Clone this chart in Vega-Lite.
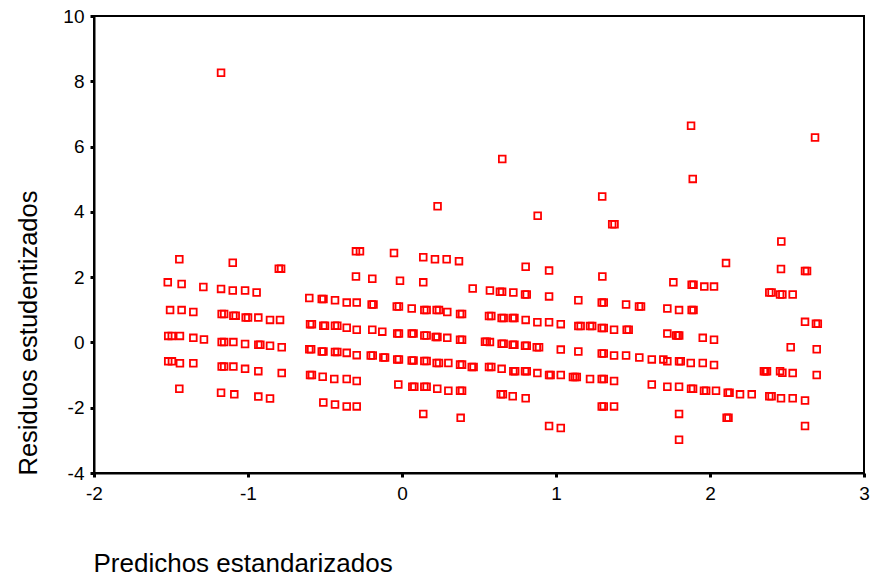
{
  "$schema": "https://vega.github.io/schema/vega-lite/v6.json",
  "width": 770,
  "height": 457,
  "autosize": "none",
  "padding": {"left": 94, "top": 16, "right": 10, "bottom": 105},
  "background": "white",
  "config": {
    "view": {"stroke": "black", "strokeWidth": 2},
    "font": "Liberation Sans"
  },
  "data": {
    "values": [
      {"x": -1.175, "y": 8.26}, {"x": 0.651, "y": 5.62}, {"x": 0.231, "y": 4.17}, {"x": 1.30, "y": 4.47}, {"x": 0.881, "y": 3.88}, {"x": 1.365, "y": 3.62}, {"x": 1.38, "y": 3.62}, {"x": 1.877, "y": 6.64}, {"x": 2.682, "y": 6.28}, {"x": 1.888, "y": 5.01}, {"x": 2.463, "y": 3.09},
      {"x": -1.446, "y": 2.55}, {"x": -1.521, "y": 1.84}, {"x": -1.431, "y": 1.79}, {"x": -1.290, "y": 1.70}, {"x": -1.506, "y": 0.99}, {"x": -1.431, "y": 0.99}, {"x": -1.355, "y": 0.93}, {"x": -1.518, "y": 0.20}, {"x": -1.495, "y": 0.20}, {"x": -1.442, "y": 0.20}, {"x": -1.355, "y": 0.14}, {"x": -1.286, "y": 0.09}, {"x": -1.518, "y": -0.58}, {"x": -1.494, "y": -0.58}, {"x": -1.442, "y": -0.64}, {"x": -1.355, "y": -0.64}, {"x": -1.446, "y": -1.42},
      {"x": -1.099, "y": 2.44}, {"x": -0.80, "y": 2.26}, {"x": -0.785, "y": 2.26}, {"x": -1.175, "y": 1.64}, {"x": -1.099, "y": 1.59}, {"x": -1.019, "y": 1.59}, {"x": -0.944, "y": 1.53}, {"x": -1.171, "y": 0.87}, {"x": -1.155, "y": 0.87}, {"x": -1.095, "y": 0.82}, {"x": -1.08, "y": 0.82}, {"x": -1.015, "y": 0.76}, {"x": -1.0, "y": 0.76}, {"x": -0.933, "y": 0.76}, {"x": -0.857, "y": 0.69}, {"x": -0.792, "y": 0.69}, {"x": -1.171, "y": 0.01}, {"x": -1.155, "y": 0.01}, {"x": -1.095, "y": 0.01}, {"x": -1.019, "y": -0.05}, {"x": -0.933, "y": -0.07}, {"x": -0.92, "y": -0.07}, {"x": -0.857, "y": -0.10}, {"x": -0.781, "y": -0.15}, {"x": -1.171, "y": -0.74}, {"x": -1.155, "y": -0.74}, {"x": -1.095, "y": -0.74}, {"x": -1.019, "y": -0.81}, {"x": -0.933, "y": -0.88}, {"x": -0.781, "y": -0.94}, {"x": -1.175, "y": -1.54}, {"x": -1.089, "y": -1.59}, {"x": -0.933, "y": -1.66}, {"x": -0.857, "y": -1.72},
      {"x": -0.299, "y": 2.79}, {"x": -0.273, "y": 2.79}, {"x": -0.299, "y": 2.02}, {"x": -0.602, "y": 1.36}, {"x": -0.521, "y": 1.33}, {"x": -0.51, "y": 1.33}, {"x": -0.435, "y": 1.29}, {"x": -0.359, "y": 1.22}, {"x": -0.294, "y": 1.22}, {"x": -0.597, "y": 0.56}, {"x": -0.585, "y": 0.56}, {"x": -0.511, "y": 0.51}, {"x": -0.50, "y": 0.51}, {"x": -0.435, "y": 0.51}, {"x": -0.42, "y": 0.51}, {"x": -0.359, "y": 0.45}, {"x": -0.294, "y": 0.39}, {"x": -0.602, "y": -0.21}, {"x": -0.59, "y": -0.21}, {"x": -0.521, "y": -0.28}, {"x": -0.51, "y": -0.28}, {"x": -0.435, "y": -0.29}, {"x": -0.42, "y": -0.29}, {"x": -0.359, "y": -0.32}, {"x": -0.294, "y": -0.39}, {"x": -0.597, "y": -1.00}, {"x": -0.585, "y": -1.00}, {"x": -0.515, "y": -1.05}, {"x": -0.440, "y": -1.12}, {"x": -0.359, "y": -1.12}, {"x": -0.294, "y": -1.18}, {"x": -0.511, "y": -1.84}, {"x": -0.435, "y": -1.90}, {"x": -0.359, "y": -1.96}, {"x": -0.294, "y": -1.96},
      {"x": -0.052, "y": 2.74}, {"x": 0.138, "y": 2.61}, {"x": 0.214, "y": 2.55}, {"x": 0.290, "y": 2.55}, {"x": 0.370, "y": 2.49}, {"x": 0.803, "y": 2.32}, {"x": 0.955, "y": 2.20}, {"x": 1.301, "y": 2.02}, {"x": -0.193, "y": 1.95}, {"x": -0.013, "y": 1.89}, {"x": 0.138, "y": 1.84}, {"x": 0.459, "y": 1.65}, {"x": 0.571, "y": 1.59}, {"x": 0.636, "y": 1.55}, {"x": 0.65, "y": 1.55}, {"x": 0.723, "y": 1.53}, {"x": 0.799, "y": 1.47}, {"x": 0.81, "y": 1.47}, {"x": 0.955, "y": 1.41}, {"x": 1.145, "y": 1.29}, {"x": 1.297, "y": 1.22}, {"x": 1.31, "y": 1.22},
      {"x": -0.197, "y": 1.16}, {"x": -0.185, "y": 1.16}, {"x": -0.034, "y": 1.10}, {"x": -0.02, "y": 1.10}, {"x": 0.063, "y": 1.04}, {"x": 0.145, "y": 0.99}, {"x": 0.16, "y": 0.99}, {"x": 0.225, "y": 0.99}, {"x": 0.24, "y": 0.99}, {"x": 0.294, "y": 0.93}, {"x": 0.377, "y": 0.87}, {"x": 0.39, "y": 0.87}, {"x": 0.565, "y": 0.81}, {"x": 0.58, "y": 0.81}, {"x": 0.647, "y": 0.75}, {"x": 0.66, "y": 0.75}, {"x": 0.719, "y": 0.75}, {"x": 0.73, "y": 0.75}, {"x": 0.803, "y": 0.69}, {"x": 0.879, "y": 0.62}, {"x": 0.955, "y": 0.62}, {"x": 1.031, "y": 0.56}, {"x": 1.145, "y": 0.50}, {"x": 1.16, "y": 0.50}, {"x": 1.221, "y": 0.50}, {"x": 1.235, "y": 0.50}, {"x": 1.297, "y": 0.44}, {"x": 1.31, "y": 0.44}, {"x": 1.377, "y": 0.39},
      {"x": -0.193, "y": 0.39}, {"x": -0.128, "y": 0.33}, {"x": -0.031, "y": 0.27}, {"x": -0.02, "y": 0.27}, {"x": 0.063, "y": 0.27}, {"x": 0.075, "y": 0.27}, {"x": 0.145, "y": 0.21}, {"x": 0.16, "y": 0.21}, {"x": 0.219, "y": 0.17}, {"x": 0.23, "y": 0.17}, {"x": 0.294, "y": 0.14}, {"x": 0.377, "y": 0.08}, {"x": 0.39, "y": 0.08}, {"x": 0.539, "y": 0.02}, {"x": 0.55, "y": 0.02}, {"x": 0.571, "y": 0.01}, {"x": 0.647, "y": -0.04}, {"x": 0.66, "y": -0.04}, {"x": 0.719, "y": -0.07}, {"x": 0.73, "y": -0.07}, {"x": 0.799, "y": -0.10}, {"x": 0.81, "y": -0.10}, {"x": 0.875, "y": -0.15}, {"x": 0.89, "y": -0.15}, {"x": 1.031, "y": -0.22}, {"x": 1.145, "y": -0.28}, {"x": 1.297, "y": -0.34}, {"x": 1.31, "y": -0.34}, {"x": 1.377, "y": -0.40},
      {"x": -0.203, "y": -0.40}, {"x": -0.19, "y": -0.40}, {"x": -0.121, "y": -0.46}, {"x": -0.11, "y": -0.46}, {"x": -0.031, "y": -0.52}, {"x": -0.02, "y": -0.52}, {"x": 0.063, "y": -0.55}, {"x": 0.075, "y": -0.55}, {"x": 0.145, "y": -0.57}, {"x": 0.16, "y": -0.57}, {"x": 0.225, "y": -0.63}, {"x": 0.24, "y": -0.63}, {"x": 0.301, "y": -0.63}, {"x": 0.377, "y": -0.68}, {"x": 0.39, "y": -0.68}, {"x": 0.453, "y": -0.75}, {"x": 0.465, "y": -0.75}, {"x": 0.565, "y": -0.75}, {"x": 0.58, "y": -0.75}, {"x": 0.647, "y": -0.81}, {"x": 0.723, "y": -0.88}, {"x": 0.735, "y": -0.88}, {"x": 0.799, "y": -0.88}, {"x": 0.81, "y": -0.88}, {"x": 0.879, "y": -0.94}, {"x": 0.955, "y": -1.00}, {"x": 0.965, "y": -1.00}, {"x": 1.031, "y": -1.00}, {"x": 1.11, "y": -1.06}, {"x": 1.123, "y": -1.06}, {"x": 1.135, "y": -1.06}, {"x": 1.221, "y": -1.12}, {"x": 1.297, "y": -1.12}, {"x": 1.31, "y": -1.12}, {"x": 1.377, "y": -1.18},
      {"x": -0.024, "y": -1.29}, {"x": 0.067, "y": -1.36}, {"x": 0.08, "y": -1.36}, {"x": 0.145, "y": -1.36}, {"x": 0.16, "y": -1.36}, {"x": 0.229, "y": -1.42}, {"x": 0.301, "y": -1.48}, {"x": 0.377, "y": -1.48}, {"x": 0.39, "y": -1.48}, {"x": 0.641, "y": -1.59}, {"x": 0.655, "y": -1.59}, {"x": 0.719, "y": -1.65}, {"x": 0.803, "y": -1.71}, {"x": 1.297, "y": -1.96}, {"x": 1.31, "y": -1.96}, {"x": 1.377, "y": -1.96}, {"x": 0.138, "y": -2.19}, {"x": 0.381, "y": -2.31}, {"x": 0.955, "y": -2.56}, {"x": 1.031, "y": -2.62},
      {"x": 2.104, "y": 2.43}, {"x": 2.461, "y": 2.25}, {"x": 2.617, "y": 2.19}, {"x": 2.63, "y": 2.19}, {"x": 1.762, "y": 1.84}, {"x": 1.881, "y": 1.77}, {"x": 1.893, "y": 1.77}, {"x": 1.963, "y": 1.71}, {"x": 2.026, "y": 1.71}, {"x": 2.385, "y": 1.53}, {"x": 2.40, "y": 1.53}, {"x": 2.455, "y": 1.47}, {"x": 2.47, "y": 1.47}, {"x": 2.537, "y": 1.47}, {"x": 1.455, "y": 1.16}, {"x": 1.539, "y": 1.10}, {"x": 1.552, "y": 1.10}, {"x": 1.723, "y": 1.04}, {"x": 1.799, "y": 0.99}, {"x": 1.881, "y": 0.99}, {"x": 1.893, "y": 0.99}, {"x": 2.617, "y": 0.63}, {"x": 2.688, "y": 0.57}, {"x": 2.70, "y": 0.57}, {"x": 1.459, "y": 0.39}, {"x": 1.472, "y": 0.39}, {"x": 1.723, "y": 0.27}, {"x": 1.78, "y": 0.21}, {"x": 1.79, "y": 0.21}, {"x": 1.80, "y": 0.21}, {"x": 1.953, "y": 0.14}, {"x": 2.026, "y": 0.08}, {"x": 2.524, "y": -0.15}, {"x": 2.693, "y": -0.21},
      {"x": 1.455, "y": -0.40}, {"x": 1.541, "y": -0.46}, {"x": 1.622, "y": -0.52}, {"x": 1.697, "y": -0.52}, {"x": 1.723, "y": -0.58}, {"x": 1.799, "y": -0.58}, {"x": 1.81, "y": -0.58}, {"x": 1.875, "y": -0.63}, {"x": 1.953, "y": -0.63}, {"x": 2.026, "y": -0.69}, {"x": 2.35, "y": -0.88}, {"x": 2.36, "y": -0.88}, {"x": 2.37, "y": -0.88}, {"x": 2.455, "y": -0.88}, {"x": 2.47, "y": -0.93}, {"x": 2.537, "y": -0.94}, {"x": 2.693, "y": -1.00},
      {"x": 1.622, "y": -1.29}, {"x": 1.723, "y": -1.36}, {"x": 1.799, "y": -1.36}, {"x": 1.877, "y": -1.42}, {"x": 1.89, "y": -1.42}, {"x": 1.961, "y": -1.48}, {"x": 1.975, "y": -1.48}, {"x": 2.039, "y": -1.48}, {"x": 2.115, "y": -1.54}, {"x": 2.127, "y": -1.54}, {"x": 2.195, "y": -1.59}, {"x": 2.271, "y": -1.59}, {"x": 2.385, "y": -1.65}, {"x": 2.40, "y": -1.65}, {"x": 2.461, "y": -1.71}, {"x": 2.537, "y": -1.71}, {"x": 2.617, "y": -1.78}, {"x": 1.799, "y": -2.19}, {"x": 2.108, "y": -2.31}, {"x": 2.12, "y": -2.31}, {"x": 2.617, "y": -2.56}, {"x": 1.799, "y": -2.98}
    ]
  },
  "mark": {"type": "point", "shape": "square", "filled": false, "stroke": "#ff0000", "strokeWidth": 1.8, "size": 45, "opacity": 1},
  "encoding": {
    "x": {
      "field": "x", "type": "quantitative",
      "scale": {"domain": [-2, 3], "nice": false, "zero": false},
      "axis": {
        "title": "Predichos estandarizados",
        "values": [-2, -1, 0, 1, 2, 3],
        "labelExpr": "'' + datum.value",
        "grid": false,
        "domainColor": "black", "domainWidth": 2,
        "tickColor": "black", "tickSize": 4, "tickWidth": 3,
        "labelFont": "Liberation Sans", "labelFontSize": 19, "labelColor": "black", "labelPadding": 7,
        "labelFlush": false,
        "titleFont": "Liberation Sans", "titleFontSize": 26, "titleFontWeight": "normal", "titleColor": "black",
        "titleAnchor": "start", "titleAlign": "left", "titleX": -1, "titleY": 98, "titleBaseline": "alphabetic"
      }
    },
    "y": {
      "field": "y", "type": "quantitative",
      "scale": {"domain": [-4, 10], "nice": false, "zero": false},
      "axis": {
        "title": "Residuos estudentizados",
        "values": [-4, -2, 0, 2, 4, 6, 8, 10],
        "labelExpr": "'' + datum.value",
        "grid": false,
        "domainColor": "black", "domainWidth": 2,
        "tickColor": "black", "tickSize": 4, "tickWidth": 3,
        "labelFont": "Liberation Sans", "labelFontSize": 19, "labelColor": "black", "labelPadding": 6,
        "labelFlush": false,
        "titleFont": "Liberation Sans", "titleFontSize": 25.5, "titleFontWeight": "normal", "titleColor": "black",
        "titleAngle": 270, "titleAlign": "left", "titleBaseline": "middle", "titleX": -66, "titleY": 459
      }
    }
  }
}
